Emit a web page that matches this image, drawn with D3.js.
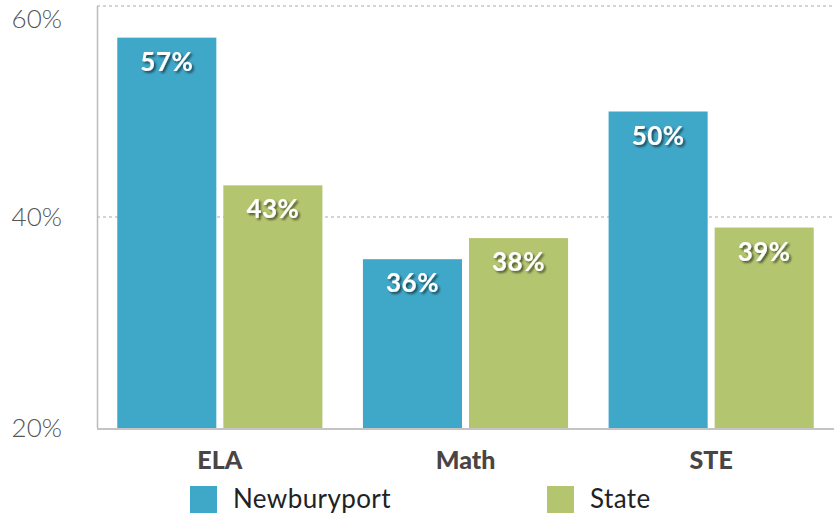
<!DOCTYPE html>
<html>
<head>
<meta charset="utf-8">
<script src="https://cdn.jsdelivr.net/npm/d3@7"></script>
<style>
  body { margin: 0; background: #fff; }
  text { font-family: Lato, "Open Sans", sans-serif; }
</style>
</head>
<body>
<svg id="chart" width="834" height="516"></svg>
<script>
// data
var subjects = ["ELA", "Math", "STE"];
var seriesNames = ["Newburyport", "State"];
var newburyport = [57, 36, 50];
var state = [43, 38, 39];
var yTicks = [20, 40, 60];
var colors = ["#3fa7c8", "#b3c66f"];

var svg = d3.select("#chart");

var margin = {top: 6, right: 0, bottom: 88, left: 97},
    width = 834 - margin.left - margin.right,
    height = 516 - margin.top - margin.bottom;

var defs = svg.append("defs");
defs.append("filter")
    .attr("id", "shadow")
    .attr("x", "-20%").attr("y", "-20%")
    .attr("width", "140%").attr("height", "150%")
  .append("feDropShadow")
    .attr("dx", 2).attr("dy", 2)
    .attr("stdDeviation", 1.3)
    .attr("flood-color", "#000")
    .attr("flood-opacity", 0.55);

var g = svg.append("g")
    .attr("transform", "translate(" + margin.left + "," + margin.top + ")");

var x0 = d3.scaleBand()
    .domain(subjects)
    .range([0, width])
    .paddingInner(0.165)
    .paddingOuter(0.0825);

var x1 = d3.scaleBand()
    .domain(seriesNames)
    .range([0, x0.bandwidth()])
    .paddingInner(0.066);

var y = d3.scaleLinear()
    .domain([20, 60])
    .range([height, 0]);

// gridlines
g.selectAll(".grid")
  .data(yTicks.filter(function(d) { return d > 20; }))
  .enter().append("line")
    .attr("x1", 0)
    .attr("x2", width)
    .attr("y1", function(d) { return y(d); })
    .attr("y2", function(d) { return y(d); })
    .style("stroke", "#aaa")
    .style("stroke-width", 1.2)
    .style("stroke-dasharray", "3,3");

// y tick labels (top one pushed down a bit so it stays on the page)
g.selectAll(".ytick")
  .data(yTicks)
  .enter().append("text")
    .attr("x", -35)
    .attr("y", function(d) { return Math.max(y(d), 13); })
    .attr("dy", "0.36em")
    .attr("text-anchor", "end")
    .style("font-size", "26px")
    .style("font-weight", 300)
    .style("fill", "#555")
    .text(function(d) { return d + "%"; });

var rows = subjects.map(function(s, i) {
  return {subject: s, values: [newburyport[i], state[i]]};
});

var groups = g.selectAll(".group")
  .data(rows)
  .enter().append("g")
    .attr("transform", function(d) { return "translate(" + x0(d.subject) + ",0)"; });

groups.selectAll("rect")
  .data(function(d) { return d.values.map(function(v, i) { return {name: seriesNames[i], value: v, i: i}; }); })
  .enter().append("rect")
    .attr("x", function(d) { return x1(d.name); })
    .attr("y", function(d) { return y(d.value); })
    .attr("width", x1.bandwidth())
    .attr("height", function(d) { return height - y(d.value); })
    .style("fill", function(d) { return colors[d.i]; });

groups.selectAll(".val")
  .data(function(d) { return d.values.map(function(v, i) { return {name: seriesNames[i], value: v}; }); })
  .enter().append("text")
    .attr("x", function(d) { return x1(d.name) + x1.bandwidth() / 2; })
    .attr("y", function(d) { return y(d.value) + 33; })
    .attr("text-anchor", "middle")
    .attr("filter", "url(#shadow)")
    .style("font-size", "26px")
    .style("font-weight", "bold")
    .style("letter-spacing", "0.5px")
    .style("fill", "#fff")
    .text(function(d) { return d.value + "%"; });

// axes lines
g.append("line")
    .attr("x1", 0.5).attr("x2", 0.5)
    .attr("y1", 0).attr("y2", height)
    .style("stroke", "#bbb")
    .style("stroke-width", 1.5);

g.append("line")
    .attr("x1", 0).attr("x2", width)
    .attr("y1", height + 1).attr("y2", height + 1)
    .style("stroke", "#c4c4c4")
    .style("stroke-width", 2);

// category labels
g.selectAll(".cat")
  .data(subjects)
  .enter().append("text")
    .attr("x", function(d) { return x0(d) + x0.bandwidth() / 2; })
    .attr("y", height + 41)
    .attr("text-anchor", "middle")
    .style("font-size", "25px")
    .style("font-weight", "900")
    .style("fill", "#4a4444")
    .text(function(d) { return d; });

// legend
var legendX = [190, 547];
var legend = svg.selectAll(".legend")
  .data(seriesNames)
  .enter().append("g")
    .attr("transform", function(d, i) { return "translate(" + legendX[i] + ",486)"; });

legend.append("rect")
    .attr("width", 27)
    .attr("height", 27)
    .style("fill", function(d, i) { return colors[i]; });

legend.append("text")
    .attr("x", 43)
    .attr("y", 22)
    .style("font-size", "26px")
    .style("letter-spacing", "0.4px")
    .style("fill", "#222")
    .text(function(d) { return d; });
</script>
</body>
</html>
